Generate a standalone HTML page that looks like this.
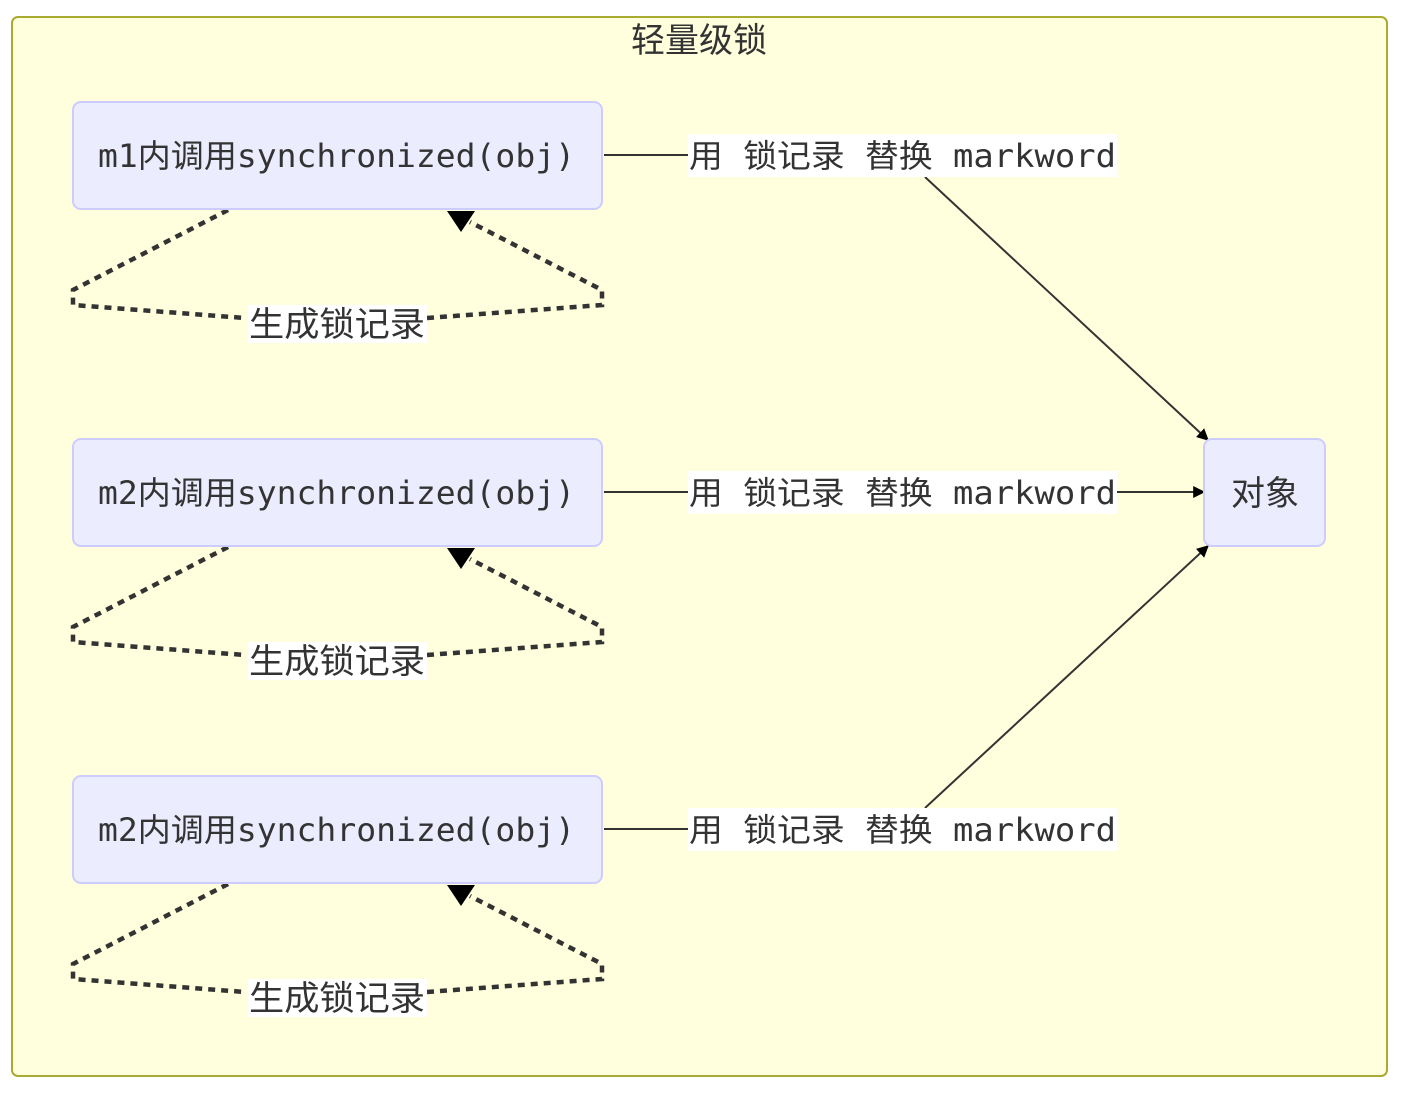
<!DOCTYPE html>
<html><head><meta charset="utf-8"><style>
html,body{margin:0;padding:0;background:#fff;}
svg{display:block}
text{font-family:"DejaVu Sans Mono","Noto Sans CJK SC",monospace;fill:#333;}
</style></head><body>
<svg width="1407" height="1096" viewBox="0 0 1407 1096" xmlns="http://www.w3.org/2000/svg">
<defs>
<marker id="ah2" viewBox="0 0 10 10" refX="9" refY="5" markerWidth="12" markerHeight="12" orient="auto" markerUnits="userSpaceOnUse"><path d="M0,0L10,5L0,10z" fill="#000"/></marker>
</defs>
<rect x="12" y="17" width="1375" height="1059" rx="6" fill="#FFFFDE" stroke="#AAAA33" stroke-width="2"/>
<text x="699" y="52" font-size="34" text-anchor="middle" style='font-family:"Noto Sans CJK SC",sans-serif'>轻量级锁</text>

<g>
<path d="M228,210 L73,290 L73,305 L245,318 M427,318 L602,305 L602,290 L470,222" fill="none" stroke="#333" stroke-width="4.5" stroke-dasharray="7,6"/>
<path d="M447,211 L475,211 L461,232z" fill="#000"/>
<rect x="248" y="305" width="179" height="38" fill="#fff"/>
<text x="337" y="336" font-size="34" text-anchor="middle" textLength="176" lengthAdjust="spacingAndGlyphs" style='font-family:"Noto Sans CJK SC",sans-serif'>生成锁记录</text>
<rect x="73" y="102" width="529" height="107" rx="8" fill="#ECECFF" stroke="#CCCCFF" stroke-width="2"/>
<text x="98" y="167" font-size="32" textLength="477" lengthAdjust="spacingAndGlyphs">m1内调用synchronized(obj)</text>
</g>
<g transform="translate(0,337)">
<path d="M228,210 L73,290 L73,305 L245,318 M427,318 L602,305 L602,290 L470,222" fill="none" stroke="#333" stroke-width="4.5" stroke-dasharray="7,6"/>
<path d="M447,211 L475,211 L461,232z" fill="#000"/>
<rect x="248" y="305" width="179" height="38" fill="#fff"/>
<text x="337" y="336" font-size="34" text-anchor="middle" textLength="176" lengthAdjust="spacingAndGlyphs" style='font-family:"Noto Sans CJK SC",sans-serif'>生成锁记录</text>
<rect x="73" y="102" width="529" height="107" rx="8" fill="#ECECFF" stroke="#CCCCFF" stroke-width="2"/>
<text x="98" y="167" font-size="32" textLength="477" lengthAdjust="spacingAndGlyphs">m2内调用synchronized(obj)</text>
</g>
<g transform="translate(0,674)">
<path d="M228,210 L73,290 L73,305 L245,318 M427,318 L602,305 L602,290 L470,222" fill="none" stroke="#333" stroke-width="4.5" stroke-dasharray="7,6"/>
<path d="M447,211 L475,211 L461,232z" fill="#000"/>
<rect x="248" y="305" width="179" height="38" fill="#fff"/>
<text x="337" y="336" font-size="34" text-anchor="middle" textLength="176" lengthAdjust="spacingAndGlyphs" style='font-family:"Noto Sans CJK SC",sans-serif'>生成锁记录</text>
<rect x="73" y="102" width="529" height="107" rx="8" fill="#ECECFF" stroke="#CCCCFF" stroke-width="2"/>
<text x="98" y="167" font-size="32" textLength="477" lengthAdjust="spacingAndGlyphs">m2内调用synchronized(obj)</text>
</g>

<line x1="604" y1="155" x2="688" y2="155" stroke="#333" stroke-width="2"/>
<line x1="925" y1="177" x2="1208" y2="440" stroke="#333" stroke-width="2" marker-end="url(#ah2)"/>
<line x1="604" y1="492" x2="688" y2="492" stroke="#333" stroke-width="2"/>
<line x1="1117" y1="492" x2="1204" y2="492" stroke="#333" stroke-width="2" marker-end="url(#ah2)"/>
<line x1="604" y1="829" x2="688" y2="829" stroke="#333" stroke-width="2"/>
<line x1="925" y1="808" x2="1208" y2="546" stroke="#333" stroke-width="2" marker-end="url(#ah2)"/>

<rect x="688" y="134" width="429" height="43" fill="#fff"/>
<text x="689" y="167" font-size="32" textLength="427" lengthAdjust="spacingAndGlyphs">用 锁记录 替换 markword</text>
<rect x="688" y="471" width="429" height="43" fill="#fff"/>
<text x="689" y="504" font-size="32" textLength="427" lengthAdjust="spacingAndGlyphs">用 锁记录 替换 markword</text>
<rect x="688" y="808" width="429" height="43" fill="#fff"/>
<text x="689" y="841" font-size="32" textLength="427" lengthAdjust="spacingAndGlyphs">用 锁记录 替换 markword</text>

<rect x="1204" y="439" width="121" height="107" rx="8" fill="#ECECFF" stroke="#CCCCFF" stroke-width="2"/>
<text x="1265" y="505" font-size="34" text-anchor="middle" style='font-family:"Noto Sans CJK SC",sans-serif'>对象</text>
</svg>
</body></html>
